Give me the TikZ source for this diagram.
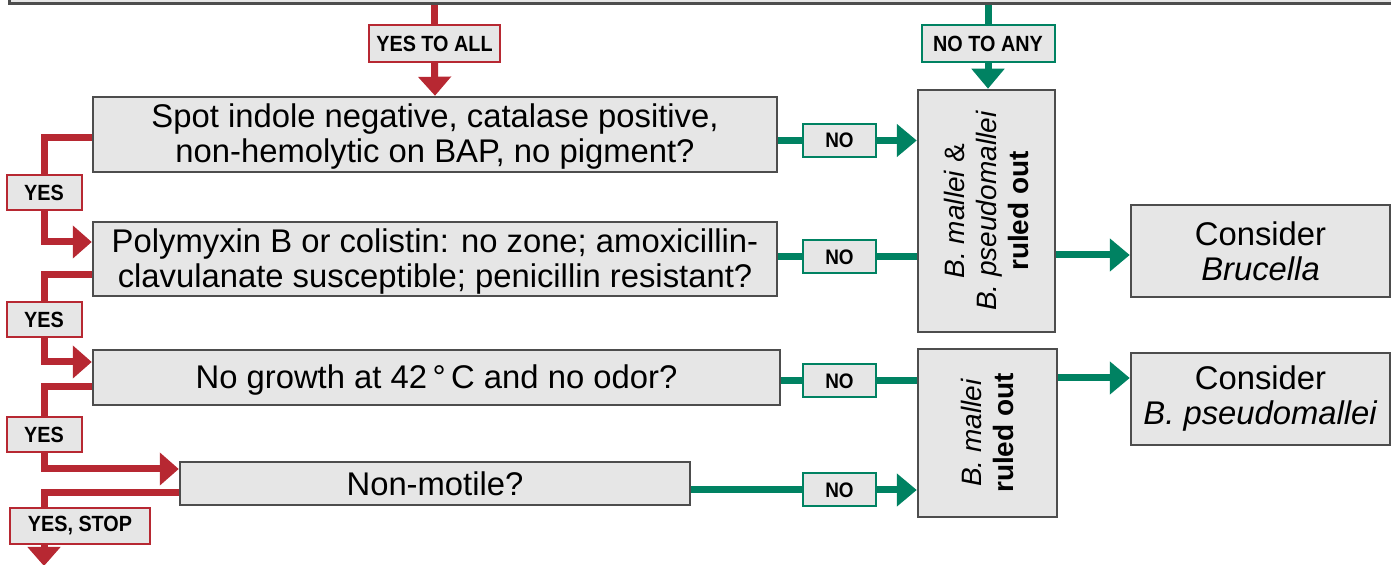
\documentclass[tikz,border=0pt]{standalone}
\usepackage{fontspec}
\setmainfont{Liberation Sans}
\newfontfamily\tagfont{Liberation Sans}[FakeStretch=0.9]
\usetikzlibrary{arrows.meta,calc}
\definecolor{cdcred}{RGB}{183,40,50}
\definecolor{cdcgreen}{RGB}{0,130,98}
\definecolor{boxgray}{RGB}{230,230,230}
\definecolor{edgegray}{RGB}{77,77,77}
\tikzset{
qbox/.style={draw=edgegray, fill=boxgray, line width=1.25pt, align=center, inner sep=0pt,
  font=\fontsize{16.4}{17.5}\selectfont},
redtag/.style={draw=cdcred, fill=boxgray, line width=1pt, inner sep=0pt,
  font=\tagfont\bfseries\fontsize{11}{13}\selectfont},
greentag/.style={redtag, draw=cdcgreen},
redline/.style={draw=cdcred, line width=3.5pt},
greenline/.style={draw=cdcgreen, line width=3.5pt},
redarrow/.style={redline, -{Triangle[width=16pt,length=9.5pt]}},
greenarrow/.style={greenline, -{Triangle[width=16pt,length=10pt]}}}

\begin{document}
\begin{tikzpicture}[x=0.5pt,y=0.5pt,yscale=-1,xscale=1]
\useasboundingbox (0,0) rectangle (1391,565);
\clip (0,0) rectangle (1391,565);

%Boxes
\node[qbox, anchor=south west, minimum width=700pt, minimum height=30pt] (top) at (8,5) {};
\node[qbox, minimum width=342pt, minimum height=37.5pt] (q1) at (435,134.5)
  {\rule{0pt}{14pt}Spot indole negative, catalase positive,\\non-hemolytic on BAP, no pigment?};
\node[qbox, minimum width=342pt, minimum height=37pt] (q2) at (435,259)
  {\rule{0pt}{14pt}Polymyxin B or colistin: no zone; amoxicillin-\\clavulanate susceptible; penicillin resistant?};
\node[qbox, minimum width=343.5pt, minimum height=27.5pt] (q3) at (436.5,377.5)
  {\rule{0pt}{14pt}No growth at 42\,°\,C and no odor?};
\node[qbox, minimum width=255pt, minimum height=21.5pt] (q4) at (435,483.5) {Non-motile?};
\node[qbox, minimum width=68.5pt, minimum height=121pt] (r1) at (986.5,211) {};
\node[rotate=90, align=center, font=\fontsize{14}{16}\selectfont] at (r1.center)
  {\textit{B. mallei} \&\\\textit{B. pseudomallei}\\\textbf{ruled out}};
\node[qbox, minimum width=69.5pt, minimum height=84pt] (r2) at (987.5,433) {};
\node[rotate=90, align=center, font=\fontsize{14}{16}\selectfont] at (r2.center)
  {\textit{B. mallei}\\\textbf{ruled out}};
\node[qbox, minimum width=129.5pt, minimum height=46pt] (c1) at (1260.5,251)
  {Consider\\\textit{Brucella}};
\node[qbox, minimum width=129.5pt, minimum height=46pt] (c2) at (1260.5,399)
  {Consider\\\textit{B. pseudomallei}};

%Tags
\node[redtag, minimum width=65.5pt, minimum height=18.5pt] (yall) at (434.5,43.5) {YES TO ALL};
\node[greentag, minimum width=66.5pt, minimum height=18.5pt] (nany) at (988,43.5) {NO TO ANY};
\node[redtag, minimum width=37.5pt, minimum height=17.5pt] (yes1) at (44,192.5) {YES};
\node[redtag, minimum width=37.5pt, minimum height=17.5pt] (yes2) at (44,320) {YES};
\node[redtag, minimum width=37.5pt, minimum height=17.5pt] (yes3) at (44,434.5) {YES};
\node[redtag, minimum width=70pt, minimum height=18pt] (ystop) at (80,526) {YES, STOP};
\foreach \n/\y in {1/140.5,2/257,3/381,4/490}
  \node[greentag, font=\tagfont\bfseries\fontsize{10.5}{12}\selectfont,
    minimum width=36.5pt, minimum height=16.5pt] (no\n) at (839.5,\y) {NO};
\coordinate (bottom) at (44,566);

%Red path
\draw[redline] (top.south -| yall.north) -- (yall.north);
\draw[redarrow] (yall.south) -- (q1.north);
\draw[redline] ($(q1.west)+(0,3.5)$) -| (yes1.north);
\draw[redarrow] (yes1.south) |- ($(q2.west)+(0,-17)$);
\draw[redline] ($(q2.west)+(0,16)$) -| (yes2.north);
\draw[redarrow] (yes2.south) |- ($(q3.west)+(0,-15.5)$);
\draw[redline] ($(q3.west)+(0,9.5)$) -| (yes3.north);
\draw[redarrow] (yes3.south) |- ($(q4.west)+(0,-14.5)$);
\draw[redline] ($(q4.west)+(0,9.5)$) -| (yes3.north |- ystop.north);
\draw[redarrow] (yes3.south |- ystop.south) -- (bottom);

%Green path
\draw[greenline] (top.south -| nany.north) -- (nany.north);
\draw[greenarrow] (nany.south) -- (nany.south |- r1.north);
\draw[greenline] (q1.east |- no1) -- (no1);
\draw[greenarrow] (no1) -- (no1 -| r1.west);
\draw[greenline] (q2.east |- no2) -- (no2) -- (no2 -| r1.west);
\draw[greenarrow] (r1.east |- 0,255) -- (c1.west |- 0,255);
\draw[greenline] (q3.east |- no3) -- (no3) -- (no3 -| r2.west);
\draw[greenarrow] (r2.east |- 0,378) -- (c2.west |- 0,378);
\draw[greenline] (q4.east |- no4) -- (no4);
\draw[greenarrow] (no4) -- (no4 -| r2.west);
\end{tikzpicture}
\end{document}
